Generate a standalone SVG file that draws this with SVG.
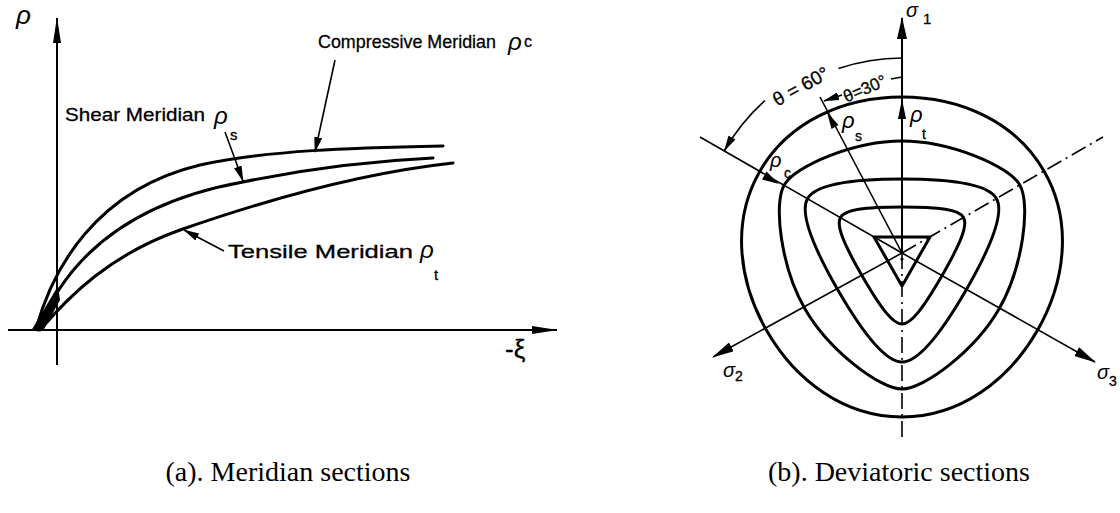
<svg xmlns="http://www.w3.org/2000/svg" width="1120" height="513" viewBox="0 0 1120 513">
<style>
.thick{fill:none;stroke:#000;stroke-width:3;stroke-linecap:round;stroke-linejoin:round}
.thin{fill:none;stroke:#000;stroke-width:1.6}
.axis{fill:none;stroke:#000;stroke-width:2}
.dd{fill:none;stroke:#000;stroke-width:1.6;stroke-dasharray:16 5 2 5}
.lbl{font-family:"Liberation Sans",Arial,sans-serif;fill:#000;stroke:#000;stroke-width:0.3}
.gr{font-family:"Liberation Sans",Arial,sans-serif;font-style:italic;fill:#000}
.cap{font-family:"Liberation Serif","Times New Roman",serif;font-size:28px;fill:#000}
</style>
<defs>
<marker id="big" markerUnits="userSpaceOnUse" viewBox="0 0 26 8" refX="25" refY="4" markerWidth="26" markerHeight="8" orient="auto"><path d="M0,0 L26,4 L0,8 Z" fill="#000"/></marker>
<marker id="mid" markerUnits="userSpaceOnUse" viewBox="0 0 22 10" refX="21" refY="5" markerWidth="22" markerHeight="10" orient="auto"><path d="M0,0 L22,5 L0,10 Z" fill="#000"/></marker>
<marker id="sm" markerUnits="userSpaceOnUse" viewBox="0 0 16 8" refX="15" refY="4" markerWidth="16" markerHeight="8" orient="auto"><path d="M0,0 L16,4 L0,8 Z" fill="#000"/></marker>
</defs>

<!-- (a) Meridian sections -->
<g id="meridian-axes">
<line class="axis" x1="57" y1="365" x2="57" y2="18" marker-end="url(#big)"/>
<line class="axis" x1="8" y1="330" x2="557" y2="330" marker-end="url(#big)"/>
<text class="gr" x="16" y="24" font-size="26">ρ</text>
<text class="lbl" x="505" y="358" font-size="26">-ξ</text>
</g>
<g id="compressive-meridian">
<path class="thick" d="M36,329 C52,270 95,190 200,165 C270,150 350,148 443,146"/>
</g>
<g id="shear-meridian">
<path class="thick" d="M38,330 C62,270 115,205 243,182 C310,168 370,161 433,158"/>
</g>
<g id="tensile-meridian">
<path class="thick" d="M40,330 C70,295 110,255 180,230 C280,195 370,172 453,163"/>
</g>
<polygon points="31,331 43,331 60,300 58,286" fill="#000"/>
<g id="meridian-labels">
<text class="lbl" x="318" y="48" font-size="19" textLength="178" lengthAdjust="spacingAndGlyphs">Compressive Meridian</text>
<text class="gr" x="508" y="50" font-size="24">ρ</text>
<text class="lbl" x="524" y="47" font-size="16">c</text>
<text class="lbl" x="65" y="121" font-size="19" textLength="140" lengthAdjust="spacingAndGlyphs">Shear Meridian</text>
<text class="gr" x="214" y="124" font-size="24">ρ</text>
<text class="lbl" x="230" y="140" font-size="15">s</text>
<text class="lbl" x="228" y="258" font-size="19" textLength="185" lengthAdjust="spacingAndGlyphs">Tensile Meridian</text>
<text class="gr" x="420" y="258" font-size="24">ρ</text>
<text class="lbl" x="434" y="280" font-size="15">t</text>
</g>
<g id="connectors">
<line class="thin" x1="335" y1="60" x2="315" y2="152" marker-end="url(#sm)"/>
<line class="thin" x1="225" y1="132" x2="243" y2="181" marker-end="url(#sm)"/>
<line class="thin" x1="224" y1="251" x2="184" y2="230" marker-end="url(#sm)"/>
</g>

<!-- (b) Deviatoric sections -->
<g id="deviatoric-curves" transform="translate(902,253)">
<path class="thick" d="M0,-156 C57,-156 113,-132.2 142,-82 C171,-31.8 163.6,28.6 135.1,78 C106.6,127.4 58,164 0,164 C-58,164 -106.6,127.4 -135.1,78 C-163.6,28.6 -171,-31.8 -142,-82 C-113,-132.2 -57,-156 0,-156 Z"/>
<path class="thick" d="M0,-112 C48,-112 106.8,-87.05 117.8,-68 C128.8,-48.95 121,14.4 97,56 C73,97.6 22,136 0,136 C-22,136 -73,97.6 -97,56 C-121,14.4 -128.8,-48.95 -117.8,-68 C-106.8,-87.05 -48,-112 0,-112 Z"/>
<path class="thick" d="M0,-74 C55,-74 86.9,-67.5 94.4,-54.5 C101.9,-41.5 91.6,-10.6 64.1,37 C36.6,84.6 15,109 0,109 C-15,109 -36.6,84.6 -64.1,37 C-91.6,-10.6 -101.9,-41.5 -94.4,-54.5 C-86.9,-67.5 -55,-74 0,-74 Z"/>
<path class="thick" d="M0,-46 C38,-46 57,-43.3 61.5,-35.5 C66,-27.7 58.8,-9.9 39.8,23 C20.8,55.9 9,71 0,71 C-9,71 -20.8,55.9 -39.8,23 C-58.8,-9.9 -66,-27.7 -61.5,-35.5 C-57,-43.3 -38,-46 0,-46 Z"/>
<path class="thick" d="M-28,-16 L28,-16 L0,33 Z"/>
<circle cx="0" cy="6" r="1.6" fill="#000"/>
</g>
<g id="deviatoric-axes">
<line class="axis" x1="902" y1="253" x2="902" y2="18" marker-end="url(#mid)"/>
<line class="thin" x1="902" y1="253" x2="713" y2="357" marker-end="url(#mid)"/>
<line class="thin" x1="902" y1="253" x2="1095" y2="362" marker-end="url(#mid)"/>
<line class="thin" x1="902" y1="253" x2="700" y2="137"/>
<line class="thin" x1="902" y1="253" x2="820" y2="97"/>
<line class="dd" x1="902" y1="253" x2="902" y2="440"/>
<line class="dd" x1="902" y1="253" x2="1103" y2="137"/>
<polygon points="902,99 906,119 898,119" fill="#000"/>
<polygon points="827,112 838.5,125.1 831.5,128.9" fill="#000"/>
<polygon points="779,184 762,179.4 766.5,171.6" fill="#000"/>
</g>
<g id="angle-dimensions">
<path class="thin" d="M764.8,100.7 A205,205 0 0,0 724.5,150.5" marker-end="url(#sm)"/>
<path class="thin" d="M838.5,68.6 A195,195 0 0,1 902,58"/>
<path class="thin" d="M842,95 L824,101" marker-end="url(#sm)"/>
<line class="thin" x1="891" y1="79" x2="902" y2="77"/>
<text class="lbl" font-size="19" transform="translate(804,92) rotate(-29)" text-anchor="middle">θ = 60°</text>
<text class="lbl" font-size="17" transform="translate(867,94) rotate(-23)" text-anchor="middle">θ=30°</text>
</g>
<g id="deviatoric-labels">
<text class="gr" x="906" y="17" font-size="20">σ</text>
<text class="lbl" x="923" y="24" font-size="15">1</text>
<text class="gr" x="723" y="377" font-size="20">σ</text>
<text class="lbl" x="735" y="381" font-size="14">2</text>
<text class="gr" x="1097" y="379" font-size="20">σ</text>
<text class="lbl" x="1109" y="386" font-size="14">3</text>
<text class="gr" x="910" y="122" font-size="22">ρ</text>
<text class="lbl" x="922" y="139" font-size="14">t</text>
<text class="gr" x="842" y="128" font-size="22">ρ</text>
<text class="lbl" x="855" y="141" font-size="14">s</text>
<text class="gr" x="770" y="167" font-size="20">ρ</text>
<text class="lbl" x="784" y="178" font-size="14">c</text>
</g>

<g id="captions">
<text class="cap" x="288" y="481" text-anchor="middle">(a). Meridian sections</text>
<text class="cap" x="899" y="481" text-anchor="middle">(b). Deviatoric sections</text>
</g>
</svg>
